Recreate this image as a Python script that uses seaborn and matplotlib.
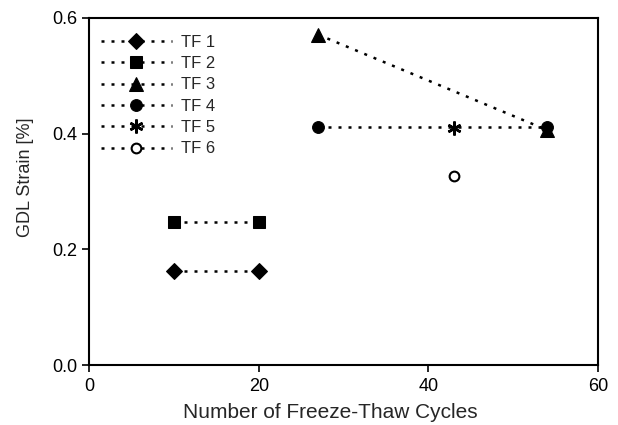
import matplotlib
matplotlib.use("Agg")
import matplotlib.pyplot as plt
import seaborn as sns
import pandas as pd

series = ["TF 1", "TF 2", "TF 3", "TF 4", "TF 5", "TF 6"]
tf1_x = [10, 20]
tf1_y = [0.163, 0.163]
tf2_x = [10, 20]
tf2_y = [0.247, 0.247]
tf3_x = [27, 54]
tf3_y = [0.571, 0.406]
tf4_x = [27, 54]
tf4_y = [0.411, 0.411]
tf5_x = [43]
tf5_y = [0.409]
tf6_x = [43]
tf6_y = [0.327]

xs = [tf1_x, tf2_x, tf3_x, tf4_x, tf5_x, tf6_x]
ys = [tf1_y, tf2_y, tf3_y, tf4_y, tf5_y, tf6_y]

styles = {
    "TF 1": dict(marker="D", markersize=8, markerfacecolor="black"),
    "TF 2": dict(marker="s", markersize=8, markerfacecolor="black"),
    "TF 3": dict(marker="^", markersize=9.5, markerfacecolor="black"),
    "TF 4": dict(marker="o", markersize=8.5, markerfacecolor="black"),
    "TF 5": dict(marker=(6, 2, 0), markersize=10, markerfacecolor="black", markeredgewidth=1.8),
    "TF 6": dict(marker="o", markersize=7, markerfacecolor="white", markeredgewidth=1.5),
}

sns.set_theme(style="ticks")
plt.rcParams["font.family"] = ["Liberation Sans", "DejaVu Sans"]

fig = plt.figure(figsize=(6.18, 4.25), dpi=100)
ax = fig.add_axes([0.144, 0.141, 0.824, 0.817])

for name, x, y in zip(series, xs, ys):
    df = pd.DataFrame({"x": x, "y": y})
    st = styles[name]
    sns.lineplot(data=df, x="x", y="y", ax=ax, color="black",
                 linestyle=(0, (1.2, 2.8)), linewidth=1.8, label=name,
                 markeredgecolor="black", **st)

ax.set_xlim(0, 60)
ax.set_ylim(0, 0.6)
ax.set_xticks([0, 20, 40, 60])
ax.set_yticks([0.0, 0.2, 0.4, 0.6])
ax.set_yticklabels(["0.0", "0.2", "0.4", "0.6"])
ax.set_xlabel("Number of Freeze-Thaw Cycles", fontsize=15)
ax.set_ylabel("GDL Strain [%]", fontsize=13)
ax.xaxis.set_label_coords(0.474, -0.108)
ax.yaxis.set_label_coords(-0.108, 0.54)
ax.tick_params(axis="both", direction="out", length=5, width=1.2, labelsize=13, colors="black")
ax.tick_params(axis="x", pad=4.5)
for sp in ax.spines.values():
    sp.set_visible(True)
    sp.set_linewidth(1.5)
    sp.set_color("black")

leg = ax.legend(loc="upper left", frameon=False, handlelength=4.3, fontsize=12,
                labelspacing=0.38, borderaxespad=0.3, handletextpad=0.5,
                bbox_to_anchor=(0.0, 0.985))

fig.savefig("out.png", dpi=100)
